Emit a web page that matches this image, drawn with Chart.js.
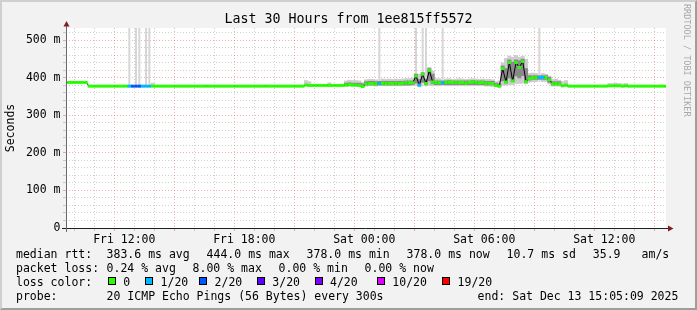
<!DOCTYPE html>
<html>
<head>
<meta charset="utf-8">
<title>Last 30 Hours from 1ee815ff5572</title>
<script src="https://cdn.jsdelivr.net/npm/chart.js@4.4.1/dist/chart.umd.min.js"></script>
<style>
  html, body { margin: 0; padding: 0; background: #f2f2f2; }
  #wrap { position: relative; width: 697px; height: 310px; overflow: hidden; }
  #frame { position: absolute; left: 0; top: 0; width: 697px; height: 310px; box-sizing: border-box;
           border-style: solid; border-width: 2px; border-color: #cfcfcf #9e9e9e #9e9e9e #cfcfcf; background: #f2f2f2; }
  canvas { position: absolute; left: 0; top: 0; }
  .t { position: absolute; font-family: "DejaVu Sans Mono", monospace; font-size: 11.5px; line-height: 14px; white-space: pre; color: #000; }
  #title { position: absolute; left: 0; width: 697px; top: 11px; text-align: center; white-space: pre;
           font-family: "DejaVu Sans Mono", monospace; font-size: 13.3px; line-height: 16px; color: #000; }
  #mark { position: absolute; left: 682px; top: 4px; writing-mode: vertical-rl; white-space: pre;
          font-family: "DejaVu Sans Mono", monospace; font-size: 8.5px; line-height: 10px; color: #a8a8a8; }
  .box { position: absolute; width: 6px; height: 6px; border: 1px solid #000; }
</style>
</head>
<body>
<div id="wrap">
  <div id="frame"></div>
  <canvas id="pingChart" width="697" height="310"></canvas>
  <div id="title">Last 30 Hours from 1ee815ff5572</div>
  <div id="mark">RRDTOOL / TOBI OETIKER</div>
  <div id="legend"></div>
</div>
<script>
const _ = null;
const startHour = 9 + 5 / 60 + 9 / 3600;   // Fri 09:05:09
const endHour = startHour + 30;
const stepHours = 10 / 60;

// median rtt in ms, one value per 10 minutes
const median = [
  388,388,388,388,388,388,388,378,378,378,378,378,
  378,378,378,378,378,378,378,378,378,378,378,378,
  378,378,378,378,378,378,378,378,378,378,378,378,
  378,378,378,378,378,378,378,378,378,378,378,378,
  378,378,378,378,378,378,378,378,378,378,378,378,
  378,378,378,378,378,378,378,378,378,378,378,378,
  381,380,380,380,380,380,380,380,380,380,380,380,
  381,382,381,381,380,377,384,385,385,384,385,386,
  385,386,385,386,385,386,387,387,387,405,381,410,
  385,420,389,388,387,387,388,389,388,388,387,388,
  386,388,389,388,387,388,386,386,385,380,378,425,
  389,441,392,441,428,444,390,398,401,401,401,401,
  401,395,384,385,384,379,381,378,378,378,378,378,
  378,378,378,378,378,378,378,379,379,379,379,378,
  379,378,378,378,378,378,378,378,378,378,378,378,
  378
];

// lost pings out of 20
const loss = [
  0,0,0,0,0,0,0,0,0,0,0,0,
  0,0,0,0,0,0,0,1,2,2,2,1,
  1,1,0,0,0,0,0,0,0,0,0,0,
  0,0,0,0,0,0,0,0,0,0,0,0,
  0,0,0,0,0,0,0,0,0,0,0,0,
  0,0,0,0,0,0,0,0,0,0,0,0,
  0,0,0,0,0,0,0,0,0,0,0,0,
  0,0,0,0,0,0,0,0,0,0,1,0,
  0,0,0,0,0,0,0,0,0,0,1,0,
  0,0,0,0,0,1,0,0,0,0,0,0,
  0,0,0,0,0,0,0,0,0,0,0,0,
  0,0,0,0,0,0,0,0,0,0,1,1,
  0,0,0,0,0,0,0,0,0,0,0,0,
  0,0,0,0,0,0,0,0,0,0,0,0,
  0,0,0,0,0,0,0,0,0,0,0,0,
  0
];

// smoke: full ping spread (ms)
const smokeLow = [
  _,_,_,_,_,_,_,_,_,_,_,_,
  _,_,_,_,_,_,_,377,_,377,377,_,
  377,377,377,_,_,_,_,_,_,_,_,_,
  _,_,_,_,_,_,_,_,_,_,_,_,
  _,_,_,_,_,_,_,_,_,_,_,_,
  _,_,_,_,_,_,_,_,_,_,_,_,
  378,378,_,_,_,_,_,378,_,_,_,_,
  378,378,378,378,377,375,378,379,379,378,378,379,
  379,379,379,379,379,379,380,380,379,378,376,378,
  377,380,379,379,379,378,379,379,379,379,379,379,
  379,379,379,379,379,379,378,378,377,376,375,380,
  380,382,382,385,385,386,384,388,390,390,390,390,
  390,384,378,378,378,377,377,_,_,_,_,_,
  _,_,_,_,_,_,_,378,378,378,378,378,
  378,_,_,_,_,_,_,_,_,_,_,_,
  _
];
const smokeHigh = [
  _,_,_,_,_,_,_,_,_,_,_,_,
  _,_,_,_,_,_,_,600,_,600,600,_,
  600,600,386,_,_,_,_,_,_,_,_,_,
  _,_,_,_,_,_,_,_,_,_,_,_,
  _,_,_,_,_,_,_,_,_,_,_,_,
  _,_,_,_,_,_,_,_,_,_,_,_,
  393,390,_,_,_,_,_,387,_,_,_,_,
  392,394,393,393,392,388,395,396,396,395,600,397,
  396,397,396,397,396,397,398,398,400,600,410,600,
  600,428,418,398,398,600,397,398,396,397,398,397,
  396,397,398,397,396,397,396,396,395,390,392,440,
  452,458,455,460,455,458,450,412,413,412,600,412,
  410,405,396,397,394,390,393,_,_,_,_,_,
  _,_,_,_,_,_,_,385,385,386,385,384,
  385,_,_,_,_,_,_,_,_,_,_,_,
  _
];

// smoke: dense middle of the ping spread (ms)
const coreLow = [
  _,_,_,_,_,_,_,_,_,_,_,_,
  _,_,_,_,_,_,_,_,_,_,_,_,
  _,_,_,_,_,_,_,_,_,_,_,_,
  _,_,_,_,_,_,_,_,_,_,_,_,
  _,_,_,_,_,_,_,_,_,_,_,_,
  _,_,_,_,_,_,_,_,_,_,_,_,
  _,_,_,_,_,_,_,_,_,_,_,_,
  379,379,379,379,379,377,381,381,381,381,381,381,
  381,381,381,381,381,381,381,381,382,386,379,388,
  381,392,384,382,382,382,382,382,382,382,382,382,
  382,382,382,382,382,382,381,381,381,378,377,392,
  386,400,390,405,400,406,388,394,396,396,396,396,
  396,388,381,381,381,_,_,_,_,_,_,_,
  _,_,_,_,_,_,_,_,_,_,_,_,
  _,_,_,_,_,_,_,_,_,_,_,_,
  _
];
const coreHigh = [
  _,_,_,_,_,_,_,_,_,_,_,_,
  _,_,_,_,_,_,_,_,_,_,_,_,
  _,_,_,_,_,_,_,_,_,_,_,_,
  _,_,_,_,_,_,_,_,_,_,_,_,
  _,_,_,_,_,_,_,_,_,_,_,_,
  _,_,_,_,_,_,_,_,_,_,_,_,
  _,_,_,_,_,_,_,_,_,_,_,_,
  386,387,386,386,386,384,390,391,391,390,391,391,
  391,391,391,391,391,391,392,392,392,410,396,414,
  396,425,410,392,392,392,392,393,392,392,392,392,
  392,392,393,392,392,392,391,391,391,386,384,432,
  425,448,442,448,446,450,425,406,406,406,406,406,
  406,402,390,390,390,_,_,_,_,_,_,_,
  _,_,_,_,_,_,_,_,_,_,_,_,
  _,_,_,_,_,_,_,_,_,_,_,_,
  _
];

const lossSteps = [0, 1, 2, 3, 4, 10, 19];
const lossLabels = ['0', '1/20', '2/20', '3/20', '4/20', '10/20', '19/20'];
const lossColors = ['#26ff00', '#00b8ff', '#0059ff', '#5e00ff', '#7e00ff', '#dd00ff', '#ff0000'];

const xTickHours = [12, 18, 24, 30, 36];
const xTickLabels = ['Fri 12:00', 'Fri 18:00', 'Sat 00:00', 'Sat 06:00', 'Sat 12:00'];
const yTickValues = [0, 100, 200, 300, 400, 500];
const yTickLabels = ['0', '100 m', '200 m', '300 m', '400 m', '500 m'];
const yMax = 533;

const statRows = [
  ['median rtt:', '383.6 ms avg', '444.0 ms max', '378.0 ms min', '378.0 ms now', '10.7 ms sd', '35.9', 'am/s'],
  ['packet loss:', '0.24 % avg', '8.00 % max', '0.00 % min', '0.00 % now'],
  ['probe:', '20 ICMP Echo Pings (56 Bytes) every 300s', 'end: Sat Dec 13 15:05:09 2025']
];

// ---- layout of the text under the plot
const rowTops = [247, 261, 289];
const statX = [
  [16, 106.6, 206.6, 306.6, 406.6, 506.6, 592.8, 641.6],
  [16, 106.6, 192.6, 278.6, 364.6],
  [16, 106.6, 477.6]
];
const lossRowTop = 275;
const lossBoxX = [108, 145.3, 199.3, 257, 314.7, 377, 442.3];

const legend = document.getElementById('legend');
function addText(x, y, s) {
  const d = document.createElement('div');
  d.className = 't';
  d.style.left = x + 'px';
  d.style.top = y + 'px';
  d.textContent = s;
  legend.appendChild(d);
}
statRows.forEach((row, r) => row.forEach((s, k) => addText(statX[r][k], rowTops[r], s)));
addText(16, lossRowTop, 'loss color:');
lossLabels.forEach((s, k) => {
  const b = document.createElement('div');
  b.className = 'box';
  b.style.left = lossBoxX[k] + 'px';
  b.style.top = (lossRowTop + 2) + 'px';
  b.style.background = lossColors[k];
  legend.appendChild(b);
  addText(lossBoxX[k] + 15.3, lossRowTop, s);
});

function lossColor(n) {
  let k = 0;
  lossSteps.forEach((s, j) => { if (n >= s) k = j; });
  return lossColors[k];
}
const timeAt = i => startHour + i * stepHours;
const toPoints = arr => arr.map((v, i) => ({ x: timeAt(i), y: v }));
// pings that go off the top of the plot are drawn as thin spikes
const toBars = (lo, hi, spikes) => lo
  .map((v, i) => (v === null || (hi[i] > yMax) !== spikes) ? null : { x: timeAt(i), y: [v, hi[i]] })
  .filter(Boolean);

const GRID = 'rgba(143,143,143,0.42)';
const MGRID = 'rgba(222,79,79,0.45)';
const monoFont = { family: '"DejaVu Sans Mono", monospace', size: 11.5 };

const plotFrame = {
  id: 'plotFrame',
  beforeDraw(chart) {
    const { ctx, chartArea: a } = chart;
    ctx.save();
    ctx.fillStyle = '#ffffff';
    ctx.fillRect(a.left, a.top, a.right - a.left, a.bottom - a.top);
    ctx.restore();
  },
  afterDraw(chart) {
    const { ctx, chartArea: a } = chart;
    ctx.save();
    ctx.strokeStyle = '#1f1f1f';
    ctx.lineWidth = 1;
    ctx.beginPath();
    ctx.moveTo(a.left - 4, a.bottom + 0.5);
    ctx.lineTo(a.right + 3, a.bottom + 0.5);
    ctx.stroke();
    ctx.strokeStyle = '#6a6a6a';
    ctx.beginPath();
    ctx.moveTo(a.left + 0.5, a.bottom + 4);
    ctx.lineTo(a.left + 0.5, a.top - 2);
    ctx.stroke();
    ctx.fillStyle = '#801f1f';
    ctx.beginPath();
    ctx.moveTo(a.left - 2.5, a.top - 1.5);
    ctx.lineTo(a.left + 3.5, a.top - 1.5);
    ctx.lineTo(a.left + 0.5, a.top - 7);
    ctx.closePath();
    ctx.fill();
    ctx.beginPath();
    ctx.moveTo(a.right + 2, a.bottom - 2.5);
    ctx.lineTo(a.right + 2, a.bottom + 3.5);
    ctx.lineTo(a.right + 7.5, a.bottom + 0.5);
    ctx.closePath();
    ctx.fill();
    ctx.restore();
  }
};

const ctx = document.getElementById('pingChart').getContext('2d');
const pingChart = new Chart(ctx, {
  type: 'line',
  data: {
    datasets: [
      {
        type: 'bar', label: 'spikes', data: toBars(smokeLow, smokeHigh, true),
        backgroundColor: '#d6d6d6', borderWidth: 0, grouped: false,
        barPercentage: 0.6, categoryPercentage: 1, order: 5
      },
      {
        type: 'bar', label: 'smoke', data: toBars(smokeLow, smokeHigh, false),
        backgroundColor: '#cdcdcd', borderWidth: 0, grouped: false,
        barPercentage: 1, categoryPercentage: 1, order: 4
      },
      {
        type: 'bar', label: 'smoke core', data: toBars(coreLow, coreHigh, false),
        backgroundColor: '#8a8a8a', borderWidth: 0, grouped: false,
        barPercentage: 1, categoryPercentage: 1, order: 3
      },
      {
        label: 'median line', data: toPoints(median),
        borderColor: '#000000', borderWidth: 1, pointRadius: 0, tension: 0, clip: 0, order: 2
      },
      {
        label: 'median rtt', data: toPoints(median), showLine: false,
        pointStyle: 'line', pointRadius: 1.7, pointHoverRadius: 1.7, pointBorderWidth: 3,
        pointBorderColor: c => lossColor(loss[c.dataIndex]),
        pointBackgroundColor: c => lossColor(loss[c.dataIndex]),
        clip: 0, order: 1
      }
    ]
  },
  options: {
    responsive: false,
    animation: false,
    events: [],
    layout: { padding: { left: 0, right: 31, top: 28, bottom: 62 } },
    plugins: { legend: { display: false }, tooltip: { enabled: false }, title: { display: false } },
    scales: {
      x: {
        type: 'linear', min: startHour, max: endHour, offset: false,
        afterBuildTicks: s => {
          const t = [];
          for (let h = Math.ceil(startHour); h <= endHour; h++) t.push({ value: h });
          s.ticks = t;
        },
        afterFit: s => { s.height = 20; },
        ticks: {
          autoSkip: false, maxRotation: 0, padding: 2, color: '#000', font: monoFont,
          callback: v => { const k = xTickHours.indexOf(v); return k >= 0 ? xTickLabels[k] : ''; }
        },
        grid: {
          color: c => (c.tick && c.tick.value % 3 === 0) ? MGRID : GRID,
          lineWidth: 1, drawTicks: true, tickLength: 3
        },
        border: { display: false, dash: [1, 2] }
      },
      y: {
        min: 0, max: yMax,
        afterBuildTicks: s => {
          const t = [];
          for (let v = 0; v < yMax; v += 20) t.push({ value: v });
          s.ticks = t;
        },
        afterFit: s => { s.width = 66; },
        ticks: {
          autoSkip: false, padding: 2.5, color: '#000', font: monoFont,
          callback: v => { const k = yTickValues.indexOf(v); return k >= 0 ? yTickLabels[k] : ''; }
        },
        grid: {
          color: c => (c.tick && c.tick.value % 100 === 0) ? MGRID : GRID,
          lineWidth: 1, drawTicks: true, tickLength: 3
        },
        border: { display: false, dash: [1, 2] },
        title: { display: true, text: 'Seconds', color: '#000', font: monoFont, padding: { top: 4, bottom: 0 } }
      }
    }
  },
  plugins: [plotFrame]
});
</script>
</body>
</html>
